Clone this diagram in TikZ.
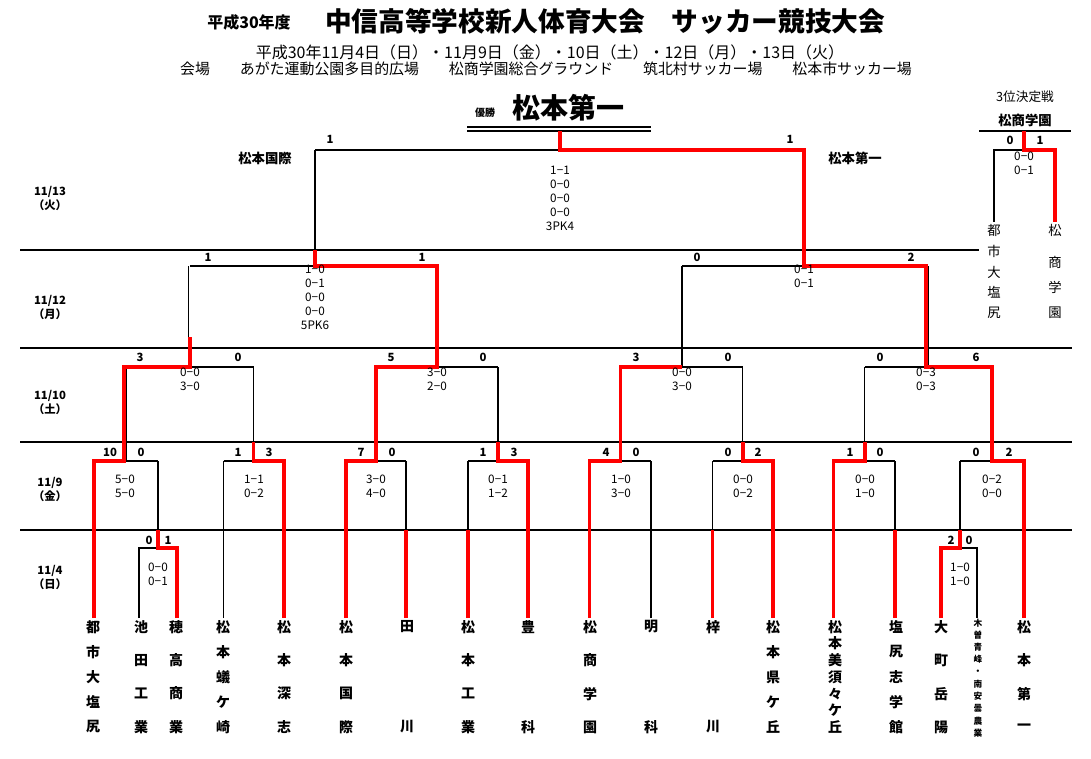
\documentclass[tikz,border=0pt]{standalone}
\usepackage{fontspec}
\setmainfont{Noto Sans CJK JP}
\newfontfamily\jp{Noto Sans CJK JP}
\begin{document}
\begin{tikzpicture}[x=0.75pt,y=-0.75pt,
  bk/.style={line width=1pt},
  rd/.style={draw=red,line width=2.4pt},
  sc/.style={font=\bfseries\fontsize{8.5}{9}\selectfont,inner sep=0pt},
  rs/.style={font=\fontsize{8.8}{10.5}\selectfont,inner sep=0pt,align=center,anchor=north},
  dt/.style={font=\bfseries\fontsize{8.5}{10.5}\selectfont,inner sep=0pt,align=center},
  tm/.style={font=\bfseries\fontsize{10.5}{11}\selectfont,inner sep=0pt}]
\useasboundingbox[fill=white] (0,0) rectangle (1091,759);
% header
\node[font=\bfseries\fontsize{12}{13}\selectfont,inner sep=0pt] (t1) at (249,22) {平成30年度};
\node[font=\bfseries\fontsize{20}{21}\selectfont,inner sep=0pt] (t2) at (605,21) {中信高等学校新人体育大会　サッカー競技大会};
\node[font=\fontsize{12}{13}\selectfont,inner sep=0pt] (t3) at (550,52) {平成30年11月4日（日）・11月9日（金）・10日（土）・12日（月）・13日（火）};
\node[font=\fontsize{11.2}{12}\selectfont,inner sep=0pt] (t4) at (546,69) {会場　　あがた運動公園多目的広場　　松商学園総合グラウンド　　筑北村サッカー場　　松本市サッカー場};
\node[font=\bfseries\fontsize{7.5}{8}\selectfont,inner sep=0pt] (yu) at (485,113) {優勝};
\node[font=\bfseries\fontsize{21}{22}\selectfont,inner sep=0pt] (ch) at (568,108) {松本第一};
\draw[line width=1pt] (467,127)--(651,127) (467,131)--(651,131);
% row lines
\draw[line width=0.9pt] (20,250)--(979,250) (20,348)--(1072,348) (20,442)--(1072,442) (20,530)--(1072,530);
% dates
\node[dt] (d1) at (50,198) {11/13\\（火）};
\node[dt] (d2) at (50,307) {11/12\\（月）};
\node[dt] (d3) at (50,402) {11/10\\（土）};
\node[dt] (d4) at (50,489) {11/9\\（金）};
\node[dt] (d5) at (50,577) {11/4\\（日）};
% black bracket
\draw[bk] (139,618)--(139,548)--(177,548)--(177,618) (158,548)--(158,461);
\draw[bk] (941,618)--(941,548)--(977,548)--(977,618) (960,548)--(960,461);
\foreach \a/\b in {94/158,223.5/284,346/406,468/528,589.5/651,712.5/773,833.5/895,960/1024}
  \draw[bk] (\a,461)--(\b,461) ({(\a+\b)/2},461)--({(\a+\b)/2},367);
\foreach \x in {94,223.5,284,346,406,468,528,589.5,651,712.5,773,833.5,895,1024}
  \draw[bk] (\x,618)--(\x,461);
\foreach \a/\b in {124/253.5,376/498,620.8/743,865/992}
  \draw[bk] (\a,367)--(\b,367) ({(\a+\b)/2},367)--({(\a+\b)/2},266);
\draw[bk] (190,266)--(437,266) (315,266)--(315,150);
\draw[bk] (682,266)--(926,266) (804,266)--(804,150);
\draw[bk] (315,150)--(804,150) (560,150)--(560,131);
\draw[bk] (994,222)--(994,150)--(1055,150) (1024,150)--(1024,131);
\draw[line width=1.6pt] (979,131)--(1071,131);
% red paths
\draw[rd] (94,618)--(94,461)--(124,461)--(124,367)--(190,367)--(190,337);
\draw[rd] (177,618)--(177,548)--(158,548)--(158,530);
\draw[rd] (284,618)--(284,461)--(253.5,461)--(253.5,442);
\draw[rd] (346,618)--(346,461)--(376,461)--(376,367)--(437,367)--(437,266)--(315,266)--(315,250);
\draw[rd] (406,618)--(406,530);
\draw[rd] (468,618)--(468,530);
\draw[rd] (528,618)--(528,461)--(498,461)--(498,442);
\draw[rd] (589.5,618)--(589.5,461)--(620.8,461)--(620.8,367)--(682,367);
\draw[rd] (712.5,618)--(712.5,530);
\draw[rd] (773,618)--(773,461)--(743,461)--(743,442);
\draw[rd] (833.5,618)--(833.5,461)--(865,461)--(865,442);
\draw[rd] (895,618)--(895,530);
\draw[rd] (941,618)--(941,548)--(960,548)--(960,530);
\draw[rd] (1024,618)--(1024,461)--(992,461)--(992,367)--(926,367)--(926,266)--(804,266)--(804,150)--(560,150)--(560,131);
\draw[rd] (1024,131)--(1024,150)--(1055,150)--(1055,222);
% scores
\foreach \x/\s [count=\i] in {149/0,168/1,951/2,969/0}
  \node[sc] (pa\i) at (\x,540) {\s};
\foreach \x/\s [count=\i] in {110/10,141/0,238/1,269/3,361/7,392/0,483/1,514/3,606/4,636/0,728/0,758/2,850/1,880/0,976/0,1009/2}
  \node[sc] (sa\i) at (\x,452) {\s};
\foreach \x/\s [count=\i] in {140/3,238/0,391/5,483/0,636/3,728/0,880/0,976/6}
  \node[sc] (sb\i) at (\x,357) {\s};
\foreach \x/\s [count=\i] in {208/1,422/1,697/0,911/2}
  \node[sc] (sd\i) at (\x,257) {\s};
\node[sc] (f1) at (330,139) {1};
\node[sc] (f2) at (790,139) {1};
\node[sc] (q1) at (1010,140) {0};
\node[sc] (q2) at (1040,140) {1};
% results
\node[rs] (r1) at (158,563) {0−0\\0−1};
\node[rs] (r2) at (960,563) {1−0\\1−0};
\foreach \x/\s [count=\i] in {125/{5−0\\5−0},254/{1−1\\0−2},376/{3−0\\4−0},498/{0−1\\1−2},621/{1−0\\3−0},743/{0−0\\0−2},865/{0−0\\1−0},992/{0−2\\0−0}}
  \node[rs] (ra\i) at (\x,475) {\s};
\foreach \x/\s [count=\i] in {190/{0−0\\3−0},437/{3−0\\2−0},682/{0−0\\3−0},926/{0−3\\0−3}}
  \node[rs] (rb\i) at (\x,368) {\s};
\node[rs] (rc1) at (315,265) {1−0\\0−1\\0−0\\0−0\\5PK6};
\node[rs] (rc2) at (804,265) {0−1\\0−1};
\node[rs] (rf) at (560,166) {1−1\\0−0\\0−0\\0−0\\3PK4};
\node[rs] (rq) at (1024,152) {0−0\\0−1};
% finalist names
\node[font=\bfseries\fontsize{10}{11}\selectfont,inner sep=0pt] (n1) at (265,158) {松本国際};
\node[font=\bfseries\fontsize{10}{11}\selectfont,inner sep=0pt] (n2) at (855,158) {松本第一};
\node[font=\fontsize{9.5}{10}\selectfont,inner sep=0pt] (q3) at (1025,97) {3位決定戦};
\node[font=\bfseries\fontsize{10}{11}\selectfont,inner sep=0pt] (q4) at (1025,120) {松商学園};
\foreach \c/\y [count=\i] in {都/230,市/251,大/272,塩/292,尻/313}
  \node[font=\fontsize{10}{11}\selectfont,inner sep=0pt] (qa\i) at (994,\y) {\c};
\foreach \c/\y [count=\i] in {松/230,商/262,学/287,園/313}
  \node[font=\fontsize{10}{11}\selectfont,inner sep=0pt] (qb\i) at (1055,\y) {\c};
% team names
\foreach \x/\n/\cs [count=\j] in {
  93/5/{都,市,大,塩,尻},
  141/4/{池,田,工,業},
  176/4/{穂,高,商,業},
  223/5/{松,本,蟻,ケ,崎},
  284/4/{松,本,深,志},
  346/4/{松,本,国,際},
  407/2/{田,川},
  468/4/{松,本,工,業},
  528/2/{豊,科},
  590/4/{松,商,学,園},
  651/2/{明,科},
  713/2/{梓,川},
  773/5/{松,本,県,ケ,丘},
  835/7/{松,本,美,須,々,ケ,丘},
  896/5/{塩,尻,志,学,館},
  941/4/{大,町,岳,陽},
  1024/4/{松,本,第,一}}{
  \foreach \c [count=\i] in \cs
    \node[tm] (tm\j-\i) at (\x,{627+(\i-1)*100/(\n-1)}) {\c};
}
\foreach \c [count=\i] in {木,曽,青,峰,・,南,安,曇,農,業}
  \node[font=\bfseries\fontsize{6.5}{7}\selectfont,inner sep=0pt] (kk\i) at (978,{623+(\i-1)*110/9}) {\c};
\end{tikzpicture}
\end{document}
